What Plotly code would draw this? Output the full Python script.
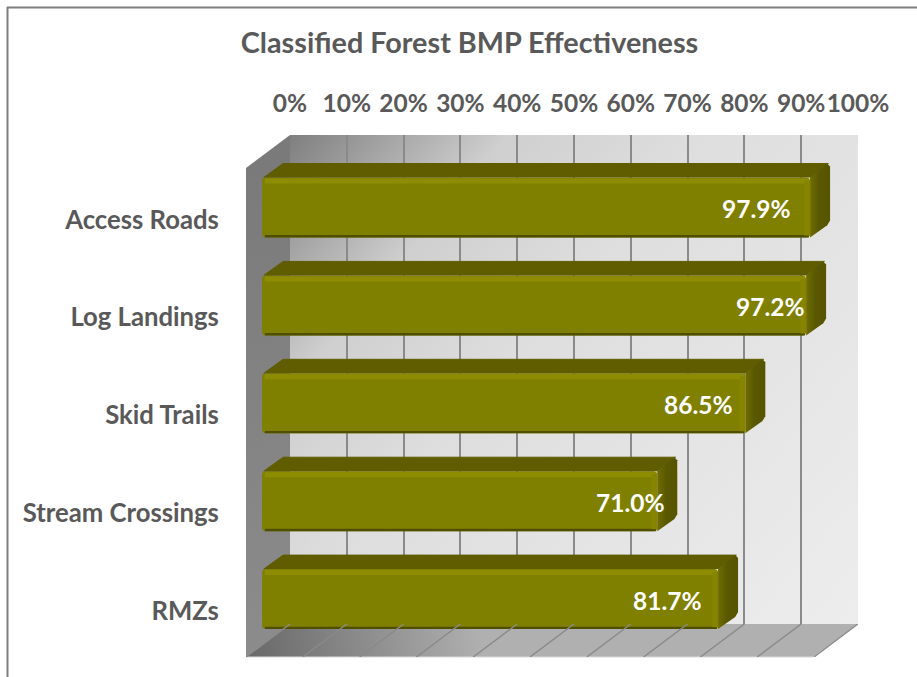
import base64
import plotly.graph_objects as go

categories = ["Access Roads", "Log Landings", "Skid Trails", "Stream Crossings", "RMZs"]
values = [97.9, 97.2, 86.5, 71.0, 81.7]
value_labels = ["97.9%", "97.2%", "86.5%", "71.0%", "81.7%"]
tick_values = [0, 10, 20, 30, 40, 50, 60, 70, 80, 90, 100]
tick_labels = ["0%", "10%", "20%", "30%", "40%", "50%", "60%", "70%", "80%", "90%", "100%"]
label_shifts = [-17, 1, -10, 10, -14]

W, H = 917, 677
FONT = "Lato, Carlito, sans-serif"
TXT = "#595959"
OLIVE = "#808000"
BACK_L, BACK_R, BACK_T, BACK_B = 290, 858, 135, 624
FRONT_L, FRONT_T, FRONT_B = 246, 168, 657
BAR_ZERO, PXU = 254, 5.68
ROW = 97.9
FIRST_ROW_Y = 207.5
BAR_H = 60
DX, DY = 20, 14
BAR_LEFT = (262 - BAR_ZERO) / PXU
BAR_AXIS_MAX = 110
GRID = "#8a8a8a"
DEPTH_UNITS = (BACK_L - FRONT_L) / PXU

svg = f'''<svg xmlns="http://www.w3.org/2000/svg" width="{W}" height="{H}" viewBox="0 0 {W} {H}">
<defs>
<linearGradient id="b" gradientUnits="userSpaceOnUse" x1="290" y1="135" x2="860" y2="624">
<stop offset="0" stop-color="#7f7f7f"/><stop offset="0.22" stop-color="#cfcfcf"/>
<stop offset="0.42" stop-color="#dedede"/><stop offset="1" stop-color="#ededed"/></linearGradient>
<linearGradient id="f" gradientUnits="userSpaceOnUse" x1="246" y1="657" x2="480" y2="624">
<stop offset="0" stop-color="#686868"/><stop offset="1" stop-color="#b0b0b0"/></linearGradient>
<linearGradient id="l" gradientUnits="userSpaceOnUse" x1="246" y1="168" x2="290" y2="657">
<stop offset="0" stop-color="#7a7a7a"/><stop offset="1" stop-color="#8c8c8c"/></linearGradient>
</defs>
<polygon points="{BACK_L},{BACK_T} {BACK_R},{BACK_T} {BACK_R},{BACK_B} {BACK_L},{BACK_B}" fill="url(#b)"/>
<polygon points="{FRONT_L},{FRONT_T} {BACK_L},{BACK_T} {BACK_L},{BACK_B} {FRONT_L},{FRONT_B}" fill="url(#l)"/>
<polygon points="{FRONT_L},{FRONT_B} {BACK_L},{BACK_B} {BACK_R},{BACK_B} {BACK_R-45},{FRONT_B}" fill="url(#f)"/>
</svg>'''
svg_uri = "data:image/svg+xml;base64," + base64.b64encode(svg.encode()).decode()

rows = list(range(len(categories)))
dxu = DX / PXU
dyu = DY / ROW
half = BAR_H / 2 / ROW
fig = go.Figure()

# back wall subplot: carries the percentage axis and its gridlines
fig.add_trace(go.Scatter(x=[0, 100], y=[0, 1], mode="markers", marker_opacity=0,
                         xaxis="x", yaxis="y", hoverinfo="skip", showlegend=False))

# floor subplot: gridlines running forward from the wall
for t in tick_values:
    fig.add_trace(go.Scatter(x=[t, t - DEPTH_UNITS], y=[1, 0], mode="lines",
                             line=dict(color=GRID, width=1.4), xaxis="x3", yaxis="y3",
                             hoverinfo="skip", showlegend=False))

# front faces
fig.add_trace(go.Bar(y=rows, x=[v - BAR_LEFT for v in values], base=[BAR_LEFT] * 5, orientation="h",
                     width=BAR_H / ROW, marker=dict(color=OLIVE, line_width=0),
                     xaxis="x2", yaxis="y2", hoverinfo="skip", showlegend=False))

for r, v in zip(rows, values):
    x0 = BAR_LEFT
    # top face
    fig.add_trace(go.Scatter(
        x=[x0 + 0.3, x0 + dxu + 0.2, v + dxu - 0.3, v],
        y=[r - half, r - half - dyu, r - half - dyu, r - half],
        fill="toself", fillcolor="#5f5d00", mode="lines", line=dict(color="#5f5d00", width=1),
        xaxis="x2", yaxis="y2", hoverinfo="skip", showlegend=False))
    # side face, rounded at its far corners
    fig.add_trace(go.Scatter(
        x=[v, v + dxu - 0.5, v + dxu, v + dxu, v + dxu - 0.5, v],
        y=[r - half, r - half - dyu, r - half - dyu + 3 / ROW, r + half - dyu - 3 / ROW,
           r + half - dyu + 3 / ROW * 0.6, r + half],
        fill="toself", mode="lines", line=dict(color="rgba(0,0,0,0)", width=0),
        fillgradient=dict(type="horizontal", colorscale=[[0, "#6f6d00"], [0.45, "#5a5800"], [1, "#565400"]]),
        xaxis="x2", yaxis="y2", hoverinfo="skip", showlegend=False))
    # bevels
    fig.add_trace(go.Scatter(
        x=[x0 + 0.5, v - 0.2], y=[r - half + 3.5 / ROW] * 2, mode="lines",
        line=dict(color="#8e8c00", width=5), xaxis="x2", yaxis="y2", hoverinfo="skip", showlegend=False))
    fig.add_trace(go.Scatter(
        x=[x0 + 0.5, v - 0.2], y=[r + half - 1.2 / ROW] * 2, mode="lines",
        line=dict(color="#504f00", width=2.4), xaxis="x2", yaxis="y2", hoverinfo="skip", showlegend=False))
    fig.add_trace(go.Scatter(
        x=[v - 0.55, v - 0.55], y=[r - half + 3 / ROW, r + half - 2 / ROW], mode="lines",
        line=dict(color="#878500", width=5), xaxis="x2", yaxis="y2", hoverinfo="skip", showlegend=False))

annotations = [
    dict(x=v, y=r, xref="x2", yref="y2", text=f"<b>{lab}</b>", showarrow=False, xanchor="right",
         xshift=s, yshift=-1, font=dict(family=FONT, size=24.5, color="white"))
    for r, v, lab, s in zip(rows, values, value_labels, label_shifts)
]

fig.update_layout(
    width=W, height=H, autosize=False,
    margin=dict(l=0, r=0, t=0, b=0, autoexpand=False),
    paper_bgcolor="white", plot_bgcolor="rgba(0,0,0,0)",
    barcornerradius=4,
    title=dict(text="<b>Classified Forest BMP Effectiveness</b>", x=469.5 / W, xanchor="center",
               y=1 - 43 / H, yanchor="middle", font=dict(family=FONT, size=28.8, color=TXT)),
    xaxis=dict(domain=[BACK_L / W, BACK_R / W], range=[0, 100], side="top", anchor="y", automargin=False,
               tickvals=tick_values, ticktext=[f"<b>{t}</b>" for t in tick_labels],
               tickfont=dict(family=FONT, size=24.5, color=TXT), ticks="outside", ticklen=12,
               tickcolor="rgba(0,0,0,0)", showgrid=True, gridcolor=GRID, gridwidth=1.6,
               zeroline=False, showline=False, fixedrange=True, tickangle=0),
    yaxis=dict(domain=[1 - BACK_B / H, 1 - BACK_T / H], range=[0, 1], visible=False, fixedrange=True,
               automargin=False),
    xaxis2=dict(domain=[BAR_ZERO / W, (BAR_ZERO + BAR_AXIS_MAX * PXU) / W], range=[0, BAR_AXIS_MAX],
                anchor="y2", visible=False, fixedrange=True, automargin=False),
    yaxis2=dict(domain=[1 - (FIRST_ROW_Y + 4.5 * ROW) / H, 1 - (FIRST_ROW_Y - 0.5 * ROW) / H],
                range=[4.5, -0.5], anchor="x2", tickvals=rows, automargin=False,
                ticktext=[f"<b>{c}</b>" for c in categories],
                tickfont=dict(family=FONT, size=25.7, color=TXT), ticks="outside", ticklen=29,
                tickcolor="rgba(0,0,0,0)", ticklabelshift=-12, showgrid=False, zeroline=False,
                showline=False, fixedrange=True),
    xaxis3=dict(domain=[FRONT_L / W, BACK_R / W], range=[-DEPTH_UNITS, 100], anchor="y3",
                visible=False, fixedrange=True, automargin=False),
    yaxis3=dict(domain=[1 - FRONT_B / H, 1 - BACK_B / H], range=[0, 1], anchor="x3",
                visible=False, fixedrange=True, automargin=False),
    images=[dict(source=svg_uri, xref="paper", yref="paper", x=0, y=1, sizex=1, sizey=1,
                 sizing="stretch", xanchor="left", yanchor="top", layer="below")],
    shapes=[
        dict(type="line", xref="paper", yref="paper", x0=7 / W, x1=1, y0=1 - 7.5 / H, y1=1 - 7.5 / H,
             line=dict(color="#7f7f7f", width=2)),
        dict(type="line", xref="paper", yref="paper", x0=7.5 / W, x1=7.5 / W, y0=0, y1=1 - 7 / H,
             line=dict(color="#7f7f7f", width=2)),
        dict(type="line", xref="paper", yref="paper", x0=FRONT_L / W, x1=(BACK_R - 45) / W,
             y0=1 - FRONT_B / H, y1=1 - FRONT_B / H, line=dict(color="#d9d9d9", width=1), layer="below"),
    ],
    annotations=annotations,
    showlegend=False,
)

fig.write_html("out.html", config={"displayModeBar": False},
               post_script="document.body.style.margin='0';document.body.style.overflow='hidden';")
